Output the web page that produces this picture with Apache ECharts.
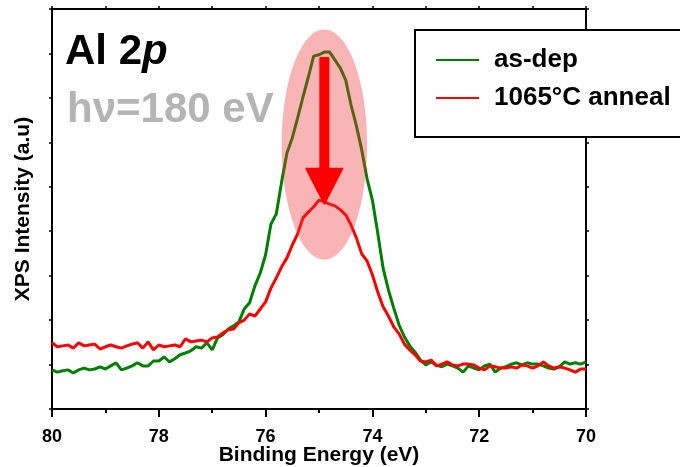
<!DOCTYPE html>
<html>
<head>
<meta charset="utf-8">
<script src="https://cdn.jsdelivr.net/npm/echarts@6/dist/echarts.min.js"></script>
<style>
  html, body { margin: 0; padding: 0; background: #fff; }
  #chart { width: 680px; height: 467px; }
</style>
</head>
<body>
<div id="chart"></div>
<script>
// Al 2p core-level spectra, binding energy grid 80.0 -> 70.0 eV in 0.1 eV steps
const energy = Array.from({ length: 101 }, (_, i) => +(80 - i * 0.1).toFixed(1));

// as-deposited film (arbitrary units)
const asDep = [
  88, 83, 86, 88, 81, 88, 92, 88, 90, 95,
  90, 97, 104, 88, 92, 97, 104, 97, 97, 108,
  108, 117, 106, 113, 122, 126, 131, 140, 137, 149,
  133, 160, 167, 180, 187, 196, 225, 239, 277, 306,
  347, 416, 439, 511, 576, 610, 655, 702, 747, 794,
  797, 803, 803, 785, 767, 740, 684, 637, 583, 518,
  470, 396, 317, 268, 227, 189, 162, 142, 128, 110,
  99, 106, 99, 95, 101, 97, 92, 83, 97, 92,
  88, 97, 101, 83, 92, 95, 101, 104, 99, 104,
  101, 101, 97, 92, 90, 95, 106, 101, 104, 101,
  106
];

// after 1065°C anneal (arbitrary units)
const annealed = [
  149, 140, 142, 144, 137, 149, 142, 144, 146, 135,
  140, 144, 140, 137, 142, 146, 149, 137, 151, 133,
  144, 140, 142, 144, 140, 158, 151, 153, 155, 151,
  160, 162, 171, 178, 180, 194, 200, 214, 209, 225,
  241, 272, 295, 320, 340, 369, 394, 430, 443, 455,
  470, 466, 461, 457, 448, 437, 414, 385, 349, 333,
  302, 263, 230, 209, 185, 169, 146, 133, 122, 108,
  106, 110, 97, 101, 106, 99, 97, 101, 101, 99,
  92, 88, 97, 95, 92, 92, 95, 92, 99, 97,
  92, 97, 106, 97, 92, 95, 92, 88, 83, 90,
  90
];

const seriesNames = ['as-dep', '1065°C anneal'];
const seriesColors = ['#008000', '#ff0000'];

// annotation anchors in data coordinates (eV, intensity)
const peakEnergy = 74.9;
const arrowFrom = 790;
const arrowTo = 462;
const haloCenter = 595;
const haloHalfWidth = 0.8;   // eV
const haloHalfHeight = 259;  // intensity units

const FONT = '"Liberation Sans", Arial, Helvetica, sans-serif';
const BLACK = '#000';

const chart = echarts.init(document.getElementById('chart'), null, { renderer: 'canvas' });

const axisLine = { show: true, onZero: false, lineStyle: { color: BLACK, width: 2 } };
const smallTick = { show: true, inside: false, length: 3, lineStyle: { color: BLACK, width: 1.5 } };

const option = {
  animation: false,
  backgroundColor: '#fff',
  grid: { left: 52, right: 94, top: 9, bottom: 58, outerBoundsMode: 'none', containLabel: false },
  xAxis: [
    {
      type: 'value', min: 70, max: 80, interval: 2, inverse: true, position: 'bottom',
      axisLine,
      axisTick: { show: true, inside: false, length: 8, lineStyle: { color: BLACK, width: 2 } },
      minorTick: { show: true, splitNumber: 2, length: 4, lineStyle: { color: BLACK, width: 2 } },
      splitLine: { show: false }, minorSplitLine: { show: false },
      axisLabel: { color: BLACK, fontFamily: FONT, fontWeight: 'bold', fontSize: 18, margin: 19 },
      name: 'Binding Energy (eV)', nameLocation: 'middle', nameGap: 36, nameMoveOverlap: false,
      nameTextStyle: { color: BLACK, fontFamily: FONT, fontWeight: 'bold', fontSize: 21 }
    },
    {
      type: 'value', min: 70, max: 80, interval: 1, inverse: true, position: 'top',
      axisLine, axisTick: smallTick,
      axisLabel: { show: false }, splitLine: { show: false }
    }
  ],
  yAxis: [
    {
      type: 'value', min: 0, max: 900, interval: 100, position: 'left',
      axisLine, axisTick: smallTick,
      axisLabel: { show: false }, splitLine: { show: false },
      name: 'XPS Intensity (a.u)', nameLocation: 'middle', nameGap: 18, nameMoveOverlap: false,
      nameTextStyle: { color: BLACK, fontFamily: FONT, fontWeight: 'bold', fontSize: 21 }
    },
    {
      type: 'value', min: 0, max: 900, interval: 100, position: 'right',
      axisLine, axisTick: smallTick,
      axisLabel: { show: false }, splitLine: { show: false }
    }
  ],
  legend: {
    orient: 'vertical', left: 430, top: 40, z: 10,
    itemWidth: 43, itemHeight: 1, itemGap: 8,
    textStyle: { color: BLACK, fontFamily: FONT, fontWeight: 'bold', fontSize: 26, lineHeight: 30, padding: [0, 0, 0, 10] },
    data: seriesNames
  },
  series: [asDep, annealed].map((vals, k) => ({
    name: seriesNames[k],
    type: 'line',
    xAxisIndex: 0, yAxisIndex: 0,
    symbol: 'none', showSymbol: false,
    color: seriesColors[k],
    lineStyle: { color: seriesColors[k], width: 3 },
    z: 2,
    data: energy.map((e, i) => [e, vals[i]])
  }))
};

chart.setOption(option);

// Annotations placed through the axis scales
const toPx = p => chart.convertToPixel({ xAxisIndex: 0, yAxisIndex: 0 }, p);
const haloPx = toPx([peakEnergy, haloCenter]);
const haloEdgePx = toPx([peakEnergy - haloHalfWidth, haloCenter + haloHalfHeight]);
const haloRx = Math.abs(haloEdgePx[0] - haloPx[0]);
const haloRy = Math.abs(haloPx[1] - haloEdgePx[1]);

const arrowStartPx = toPx([peakEnergy, arrowFrom]);
const arrowTipPx = toPx([peakEnergy, arrowTo]);
const ax = arrowTipPx[0];
const headLen = 35, headHalf = 18, shaftHalf = 4;
const arrowPts = [
  [ax - shaftHalf, arrowStartPx[1]], [ax + shaftHalf, arrowStartPx[1]],
  [ax + shaftHalf, arrowTipPx[1] - headLen], [ax + headHalf, arrowTipPx[1] - headLen],
  [ax, arrowTipPx[1]],
  [ax - headHalf, arrowTipPx[1] - headLen], [ax - shaftHalf, arrowTipPx[1] - headLen]
];

chart.setOption({
  graphic: [
    {
      type: 'rect', z: 5,
      shape: { x: 415, y: 30, width: 300, height: 107 },
      style: { fill: '#fff', stroke: BLACK, lineWidth: 2 }
    },
    {
      type: 'ellipse', z: 3,
      shape: { cx: haloPx[0], cy: haloPx[1], rx: haloRx, ry: haloRy },
      style: { fill: 'rgba(238, 50, 50, 0.36)' }
    },
    {
      type: 'polygon', z: 4,
      shape: { points: arrowPts },
      style: { fill: '#ff0000', stroke: '#ff0000', lineWidth: 2, lineJoin: 'round' }
    },
    {
      type: 'text', z: 6, x: 65, y: 52,
      style: {
        text: '{a|Al 2}{b|p}',
        verticalAlign: 'middle',
        rich: {
          a: { fontFamily: FONT, fontWeight: 'bold', fontSize: 42, fill: BLACK },
          b: { fontFamily: FONT, fontWeight: 'bold', fontStyle: 'italic', fontSize: 42, fill: BLACK }
        }
      }
    },
    {
      type: 'text', z: 6, x: 67, y: 110,
      style: {
        text: 'hν=180 eV',
        verticalAlign: 'middle',
        font: 'bold 42px ' + FONT,
        fill: '#b4b4b4'
      }
    }
  ]
});
</script>
</body>
</html>
